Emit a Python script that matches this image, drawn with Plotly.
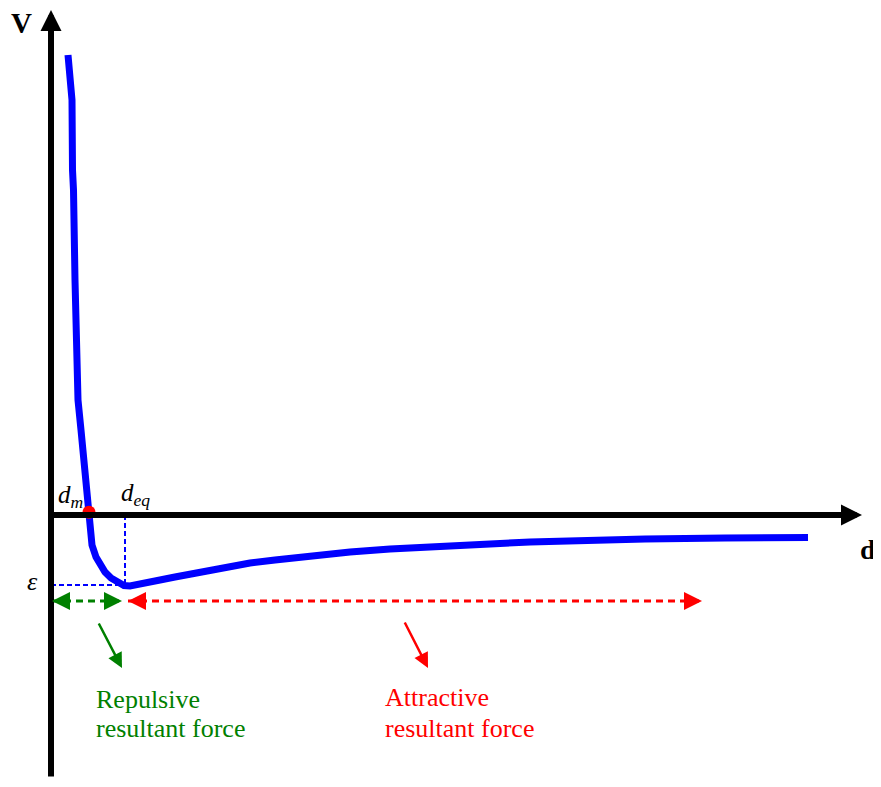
import plotly.graph_objects as go

# ---- data (d in arbitrary units, V in units of |epsilon|) ----
d_curve = [0.425, 0.475, 0.525, 0.5375, 0.5625, 0.6, 0.65, 0.675, 0.75, 0.85, 0.9, 0.95, 0.975, 1.025,
           1.125, 1.225, 1.35, 1.5, 1.675, 1.825, 1.975, 2.225, 2.475, 2.725, 3.1, 3.725, 4.35, 4.975,
           5.6, 6.225, 6.85, 7.475, 8.475, 9.225, 9.975, 10.975, 11.975, 13.225, 14.85, 16.85, 18.925]
V_curve = [6.571, 6.214, 5.929, 4.929, 4.643, 3.357, 2.214, 1.643, 1.214, 0.643, 0.357, 0.0, -0.214, -0.429,
           -0.6, -0.714, -0.814, -0.9, -0.971, -1.007, -1.014, -0.993, -0.971, -0.929, -0.886, -0.814,
           -0.743, -0.686, -0.643, -0.6, -0.557, -0.529, -0.486, -0.457, -0.433, -0.414, -0.386, -0.357,
           -0.343, -0.329, -0.321]
d_m = 0.95
d_eq = 1.85
epsilon = -1.0
force_level = -1.229
repulsive_span = [0.025, 1.775]
attractive_span = [1.925, 16.275]
axis_d = [-0.075, 20.275]
axis_V = [-3.757, 7.214]

FONT = "Liberation Serif"
X_RANGE = [-1.075, 20.95]
Y_RANGE = [-4.0, 7.243]

fig = go.Figure()

# blue dashed guide lines
fig.add_trace(go.Scatter(x=[d_eq, d_eq], y=[0, epsilon], mode="lines",
                         line=dict(color="#0000ff", width=2, dash="5px,3px"), hoverinfo="skip"))
fig.add_trace(go.Scatter(x=[0, d_eq], y=[epsilon, epsilon], mode="lines",
                         line=dict(color="#0000ff", width=2, dash="5px,3px"), hoverinfo="skip"))

# dashed force ranges
fig.add_trace(go.Scatter(x=repulsive_span, y=[force_level] * 2, mode="lines",
                         line=dict(color="#008000", width=3, dash="7px,5px"), hoverinfo="skip"))
fig.add_trace(go.Scatter(x=attractive_span, y=[force_level] * 2, mode="lines",
                         line=dict(color="#ff0000", width=3, dash="7px,5px"), hoverinfo="skip"))

# potential curve
fig.add_trace(go.Scatter(x=d_curve, y=V_curve, mode="lines",
                         line=dict(color="#0000ff", width=7), hoverinfo="skip"))
# d_m point
fig.add_trace(go.Scatter(x=[d_m], y=[0.04], mode="markers",
                         marker=dict(color="#ff0000", size=13), hoverinfo="skip"))

ann = []
# axes arrows
ann.append(dict(x=axis_d[1], y=0, ax=axis_d[0], ay=0, xref="x", yref="y", axref="x", ayref="y",
                showarrow=True, arrowhead=2, arrowsize=0.7, arrowwidth=6, arrowcolor="black", text=""))
ann.append(dict(x=0, y=axis_V[1], ax=0, ay=axis_V[0], xref="x", yref="y", axref="x", ayref="y",
                showarrow=True, arrowhead=2, arrowsize=0.7, arrowwidth=6, arrowcolor="black", text=""))

# dashed arrow heads
def head(x, y, dx, color):
    return dict(x=x, y=y, ax=dx, ay=0, xref="x", yref="y", showarrow=True, arrowhead=2,
                arrowsize=1.2, arrowwidth=3, arrowcolor=color, text="", standoff=0)

ann.append(head(repulsive_span[0], force_level, 12, "#008000"))
ann.append(head(repulsive_span[1], force_level, -12, "#008000"))
ann.append(head(attractive_span[0], force_level, 12, "#ff0000"))
ann.append(head(attractive_span[1], force_level, -12, "#ff0000"))

# diagonal pointer arrows
ann.append(dict(x=1.775, y=-2.186, ax=1.175, ay=-1.529, xref="x", yref="y", axref="x", ayref="y",
                showarrow=True, arrowhead=2, arrowsize=1.2, arrowwidth=2.5, arrowcolor="#008000", text=""))
ann.append(dict(x=9.425, y=-2.186, ax=8.825, ay=-1.514, xref="x", yref="y", axref="x", ayref="y",
                showarrow=True, arrowhead=2, arrowsize=1.2, arrowwidth=2.5, arrowcolor="#ff0000", text=""))

def label(x, y, text, size, color="black", xanchor="left"):
    return dict(x=x, y=y, xref="x", yref="y", text=text, showarrow=False, xanchor=xanchor,
                yanchor="middle", font=dict(family=FONT, size=size, color=color))

ann.append(label(-0.75, 7.03, "<b>V</b>", 29, xanchor="center"))
ann.append(label(20.425, -0.486, "<b>d</b>", 28, xanchor="center"))
ann.append(label(0.12, 0.27, "<i>d<sub>m</sub></i>", 25))
ann.append(label(1.7, 0.3, "<i>d<sub>eq</sub></i>", 25))
ann.append(label(-0.475, -0.95, "<i>ε</i>", 26, xanchor="center"))

ann.append(label(1.075, -2.629, "Repulsive", 26, "#008000"))
ann.append(label(1.075, -3.057, "resultant force", 26, "#008000"))
ann.append(label(8.3, -2.614, "Attractive", 26, "#ff0000"))
ann.append(label(8.3, -3.057, "resultant force", 26, "#ff0000"))

fig.update_layout(
    width=881, height=787,
    margin=dict(l=0, r=0, t=0, b=0),
    paper_bgcolor="white", plot_bgcolor="white",
    showlegend=False,
    xaxis=dict(range=X_RANGE, visible=False, fixedrange=True),
    yaxis=dict(range=Y_RANGE, visible=False, fixedrange=True),
    annotations=ann,
)

fig.write_html("out.html")
